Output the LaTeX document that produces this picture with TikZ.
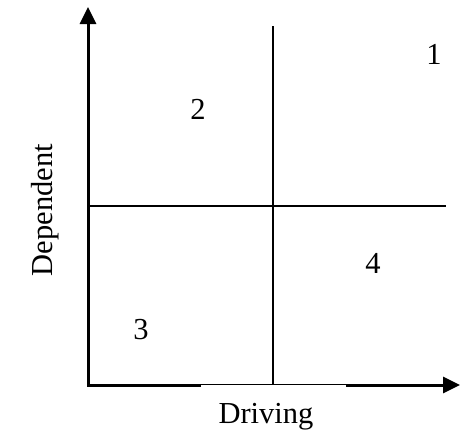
\documentclass[tikz,border=0pt]{standalone}
\usepackage{fontspec}
\setmainfont{Liberation Serif}
\usetikzlibrary{arrows.meta}

\begin{document}
\begin{tikzpicture}[
      x=1pt, y=-1pt,
      axis/.style={line width=3pt, {Triangle[length=17pt,width=16pt]}-{Triangle[length=17pt,width=16pt]}},
      divider/.style={line width=1.4pt},
      quad/.style={anchor=base},
      every node/.style={font=\fontsize{30.5}{34}\selectfont}
    ]
    \useasboundingbox (0,0) rectangle (460,447);

    \coordinate (ytop) at (88,7);
    \coordinate (origin) at (88,385);
    \coordinate (xend) at (460,385);
    \draw[axis] (ytop) -- (origin) -- (xend);

    \coordinate (hleft) at (88,206);
    \coordinate (hright) at (446,206);
    \coordinate (vtop) at (273,26);
    \coordinate (vbot) at (273,385);
    \draw[divider] (hleft) -- (hright);
    \draw[divider] (vtop) -- (vbot);

    % label box sits over the lower half of the axis
    \node[fill=white, inner sep=0pt, minimum width=145pt, minimum height=55pt, anchor=north] (drvbg) at (273.5,384.8) {};
    \node[anchor=base] (driving) at (266,423) {Driving};
    \node[anchor=base, rotate=90] (dependent) at (52,210) {Dependent};

    \node[quad] (q1) at (434,64) {1};
    \node[quad] (q2) at (198,119) {2};
    \node[quad] (q3) at (141,339) {3};
    \node[quad] (q4) at (373,273) {4};
  \end{tikzpicture}
\end{document}
